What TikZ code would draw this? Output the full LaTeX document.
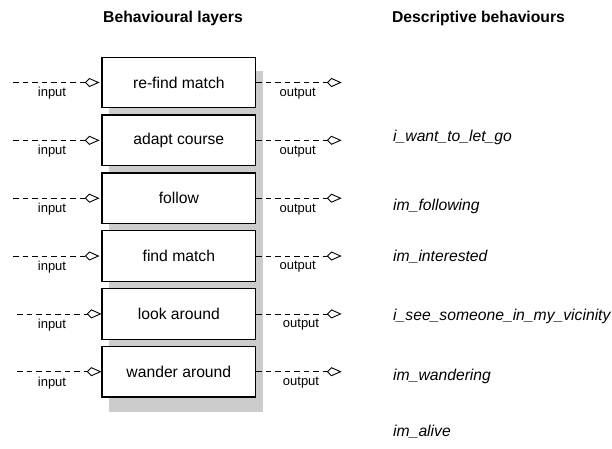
\documentclass[tikz,border=0pt]{standalone}
\usepackage{fontspec}
\setmainfont{Liberation Sans}
\begin{document}
\begin{tikzpicture}[x=1pt,y=-1pt,
  layerbox/.style={draw, line width=1.2pt, fill=white, minimum width=153.7pt,
    minimum height=50.5pt, inner sep=0pt, font=\fontsize{15.7}{18}\selectfont},
  heading/.style={font=\fontsize{15.7}{18}\selectfont\bfseries},
  behav/.style={anchor=west, inner sep=0pt, font=\fontsize{15.7}{18}\selectfont\itshape},
  portlabel/.style={inner sep=0pt, font=\fontsize{13}{15}\selectfont},
  flow/.style={dash pattern=on 5.5pt off 4pt, line width=0.8pt},
  kitetip/.pic={\draw[solid, line width=0.9pt, fill=white]
    (0,0) -- (-9,-4) -- (-13,0) -- (-9,4) -- cycle;}]
\useasboundingbox (0,0) rectangle (612,448);

% headings
\node[heading] (h1) at (173,18) {Behavioural layers};
\node[heading] (h2) at (478.5,18) {Descriptive behaviours};

% shadow behind the stack of layers
\fill[black!20] (109,71) rectangle (263,411.7);

% behaviour layers
\foreach \i/\txt/\y in {1/re-find match/82.5, 2/adapt course/140.3, 3/follow/198.2,
                        4/find match/256.0, 5/look around/313.9, 6/wander around/371.7}{
  \node[layerbox] (b\i) at (178.85,\y) {\txt};
}

% input and output connectors, each ending in an open kite tip
\foreach \i/\y/\sx/\gap/\ox in {1/82.5/13/3/297.7, 2/140.3/13/3/297.7,
                                3/198.2/13/3/297.7, 4/256.0/13/3/297.7,
                                5/313.9/17/1/301, 6/371.7/17/1/301}{
  \coordinate (in\i) at (\sx,\y);
  \coordinate (out\i) at (340.5,\y);
  \draw[flow] (in\i) -- ([xshift=-\gap pt]b\i.west)
    pic {kitetip};
  \draw[flow] (b\i.east) -- (out\i) pic {kitetip};
  \node[portlabel] (il\i) at (52,\y+11) {input};
  \node[portlabel] (ol\i) at (\ox,\y+11) {output};
}

% descriptive behaviours
\node[behav] (d1) at (393,137) {i\_want\_to\_let\_go};
\node[behav] (d2) at (393,206) {im\_following};
\node[behav] (d3) at (393,256.7) {im\_interested};
\node[behav] (d4) at (393,316.7) {i\_see\_someone\_in\_my\_vicinity};
\node[behav] (d5) at (393,376) {im\_wandering};
\node[behav] (d6) at (393,432) {im\_alive};
\end{tikzpicture}
\end{document}
